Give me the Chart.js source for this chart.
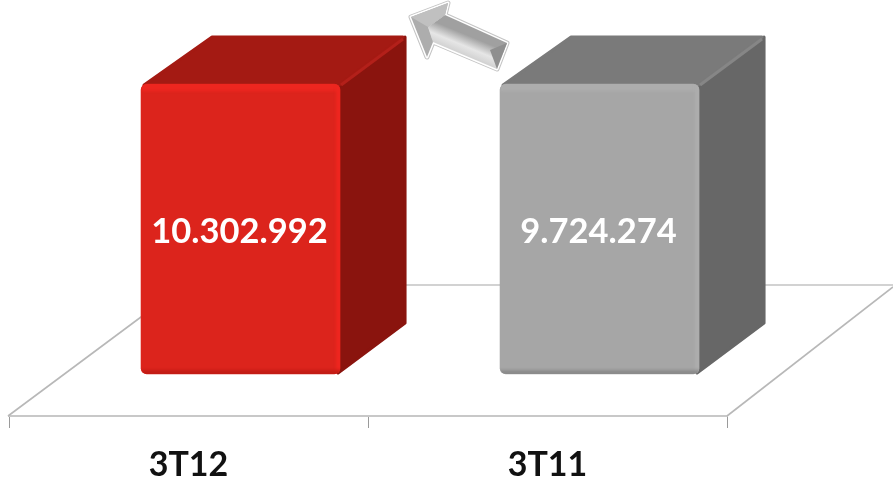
<!DOCTYPE html>
<html>
<head>
<meta charset="utf-8">
<style>html,body{margin:0;padding:0;background:#fff}canvas{display:block}</style>
<script src="https://cdn.jsdelivr.net/npm/chart.js@4/dist/chart.umd.min.js"></script>
</head>
<body>
<canvas id="c" width="893" height="480"></canvas>
<script>
const categories = ['3T12', '3T11'];
const barLabels = ['10.302.992', '9.724.274'];
// The reference draws both blocks at the same height, whatever their printed value.
const barHeights = [100, 100];
const barPositions = [0, 1];
const frontColors = ['#dc241c', '#a6a6a6'];
const topColors = ['#a41a13', '#7a7a7a'];
const sideColors = ['#8a140e', '#676767'];
const edgeColors = ['#ee261f', '#adadad'];
const ridgeColors = ['#b3201a', '#868686'];
const lowColors = ['#c21c15', '#8a8a8a'];

const DX = 66, DY = 49;

const floorPlugin = {
  id: 'floor',
  beforeDatasetsDraw(chart) {
    const a = chart.chartArea, c = chart.ctx;
    const back = 285;
    c.save();
    c.strokeStyle = '#d2d2d2'; c.lineWidth = 2;
    c.beginPath(); c.moveTo(a.left + 175, back); c.lineTo(chart.width, back); c.stroke();
    c.strokeStyle = '#b8b8b8'; c.lineWidth = 1.6;
    c.beginPath(); c.moveTo(a.left - 1, a.bottom); c.lineTo(a.left + 175, back); c.stroke();
    c.beginPath(); c.moveTo(a.right, a.bottom); c.lineTo(chart.width, back + 2); c.stroke();
    c.restore();
  }
};

const blockPlugin = {
  id: 'block',
  beforeDatasetsDraw(chart) {
    const c = chart.ctx;
    chart.getDatasetMeta(0).data.forEach((el, i) => {
      const L = el.x - el.width / 2, R = el.x + el.width / 2, T = el.y, B = el.base;
      c.save();
      c.filter = 'blur(0.5px)';
      c.lineJoin = 'round'; c.lineWidth = 3;
      c.fillStyle = sideColors[i]; c.strokeStyle = sideColors[i];
      c.beginPath();
      c.moveTo(R - 2, T + 1); c.lineTo(R + DX - 1, T - DY + 2); c.lineTo(R + DX - 1, B - DY - 2); c.lineTo(R - 2, B - 1);
      c.closePath(); c.fill(); c.stroke();
      c.fillStyle = topColors[i]; c.strokeStyle = topColors[i];
      c.beginPath();
      c.moveTo(L + 3, T + 1); c.lineTo(L + DX + 5, T - DY + 2); c.lineTo(R + DX - 3, T - DY + 2); c.lineTo(R - 1, T + 1);
      c.closePath(); c.fill(); c.stroke();
      c.strokeStyle = ridgeColors[i]; c.lineWidth = 3;
      c.beginPath(); c.moveTo(R + 1, T + 1); c.lineTo(R + DX - 3, T - DY + 4); c.stroke();
      c.restore();
    });
  },
  afterDatasetsDraw(chart) {
    const c = chart.ctx;
    chart.getDatasetMeta(0).data.forEach((el, i) => {
      const L = el.x - el.width / 2, R = el.x + el.width / 2, T = el.y, B = el.base, W = R - L;
      c.save();
      c.beginPath(); c.roundRect(L, T, W, B - T, 6); c.clip();
      c.filter = 'blur(1.5px)';
      c.fillStyle = edgeColors[i];
      c.fillRect(L, T - 2, W, 9);
      c.fillRect(R - 4, T, 6, B - T);
      c.fillStyle = lowColors[i];
      c.fillRect(L - 2, B - 4, W + 4, 6);
      c.restore();
      c.save();
      c.fillStyle = '#ffffff';
      c.font = 'bold 34.5px Lato';
      c.textAlign = 'center'; c.textBaseline = 'middle';
      c.fillText(barLabels[i], el.x - 1, (T + B) / 2 + 3);
      c.restore();
    });
  }
};

const arrowPlugin = {
  id: 'arrow',
  afterDraw(chart) {
    const c = chart.ctx;
    const pts = [[411,17],[448,3],[445,15],[507,43],[497,69],[433,42],[427,57]];
    const path = p => { c.beginPath(); p.forEach((q, k) => k ? c.lineTo(q[0], q[1]) : c.moveTo(q[0], q[1])); c.closePath(); };
    c.save();
    c.lineJoin = 'round';
    path(pts);
    c.strokeStyle = '#c4c4c4'; c.lineWidth = 5; c.stroke();
    c.strokeStyle = '#ffffff'; c.lineWidth = 3; c.stroke();
    const g = c.createLinearGradient(462, 33, 450, 62);
    g.addColorStop(0, '#a0a0a0');
    g.addColorStop(0.35, '#e6e6e6');
    g.addColorStop(0.7, '#cccccc');
    g.addColorStop(1, '#a0a0a0');
    path([[428,27],[445,15],[507,43],[497,69],[433,42]]);
    c.fillStyle = g; c.fill();
    path([[411,17],[448,3],[445,15],[428,27],[433,42],[427,57]]);
    c.fillStyle = '#adadad'; c.fill();
    path([[411,17],[448,3],[445,15],[428,27]]);
    c.fillStyle = '#c0c0c0'; c.fill();
    path([[507,43],[497,69],[490,50]]);
    c.fillStyle = '#8f8f8f'; c.fill();
    c.restore();
  }
};

new Chart(document.getElementById('c'), {
  type: 'bar',
  data: {
    labels: categories,
    datasets: [{
      data: barPositions.map((p, i) => ({ x: p, y: barHeights[i] })),
      xAxisID: 'xBars',
      backgroundColor: frontColors,
      borderRadius: 6,
      borderSkipped: false,
      barThickness: 199
    }]
  },
  plugins: [floorPlugin, blockPlugin, arrowPlugin],
  options: {
    responsive: false,
    animation: false,
    devicePixelRatio: 1,
    layout: { padding: { left: 9, right: 166, top: 0, bottom: 0 } },
    plugins: { legend: { display: false }, tooltip: { enabled: false }, title: { display: false } },
    scales: {
      x: {
        type: 'category',
        labels: categories,
        offset: true,
        position: 'bottom',
        afterFit(s) { s.height = 64; },
        border: { display: true, color: '#c8c8c8', width: 2 },
        grid: { offset: true, drawOnChartArea: false, drawTicks: true, tickLength: 12, tickColor: '#9a9a9a', tickWidth: 1 },
        ticks: { color: '#111111', font: { family: 'Lato', weight: 'bold', size: 34 }, padding: 17, maxRotation: 0 }
      },
      xBars: { type: 'linear', display: false, offset: false, min: -0.645, max: 1.355 },
      y: { display: false, min: -14.48, max: 128.97 }
    }
  }
});
</script>
</body>
</html>
